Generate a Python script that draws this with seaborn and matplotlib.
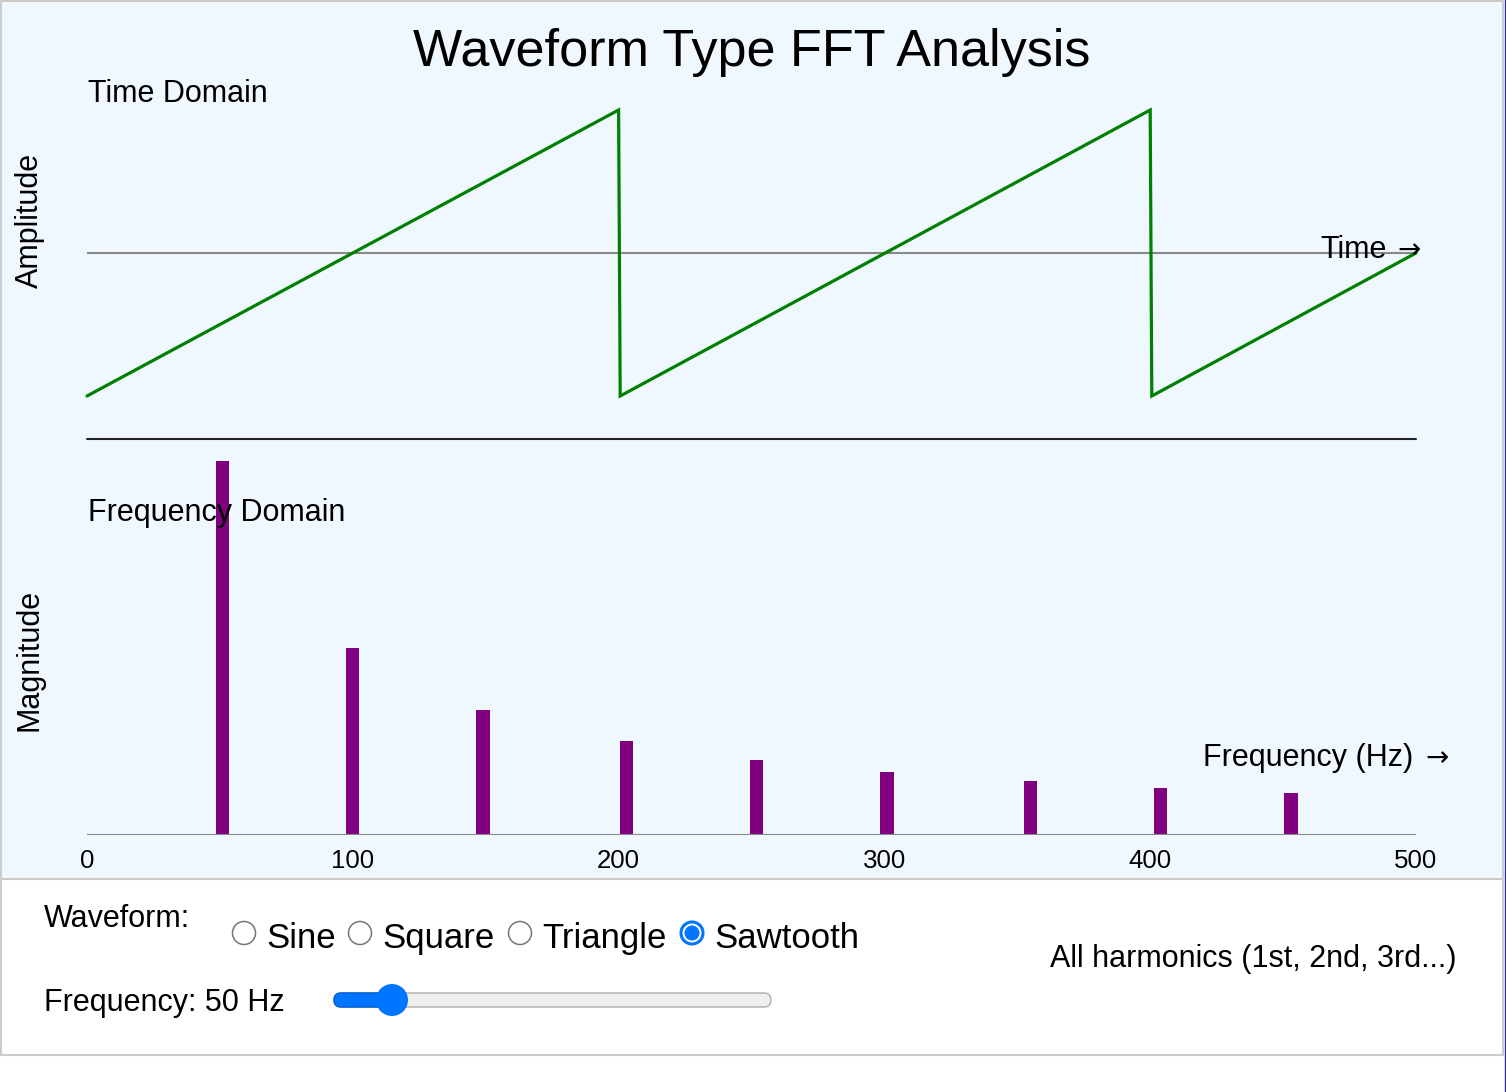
import seaborn as sns
import matplotlib.pyplot as plt
from matplotlib.patches import Rectangle, Circle, FancyBboxPatch

W, H = 1506, 1092

# time domain: one sawtooth at 50 Hz, 50 ms shown
time_ms = [0, 20, 20.06, 40, 40.06, 50]
amplitude = [-1, 1, -1, 1, -1, 0]

# frequency domain: harmonic peaks
harmonic_hz = [51, 100, 149, 203, 252, 301, 355, 404, 453]
magnitude = [1.0, 0.5, 0.334, 0.251, 0.2, 0.168, 0.144, 0.126, 0.112]
freq_ticks = [0, 100, 200, 300, 400, 500]

waveforms = ['Sine', 'Square', 'Triangle', 'Sawtooth']
selected = 'Sawtooth'
freq_setting = 50

sns.set_theme(style='white')
plt.rcParams['font.family'] = ['Liberation Sans', 'DejaVu Sans']
plt.rcParams['text.color'] = 'black'

fig = plt.figure(figsize=(W / 100, H / 100), dpi=100)
fig.patch.set_facecolor('white')


def frac(left, top, right, bottom):
    return [left / W, 1 - bottom / H, (right - left) / W, (bottom - top) / H]


# panels behind everything
back = fig.add_axes([0, 0, 1, 1], zorder=0)
back.set_xlim(0, W)
back.set_ylim(H, 0)
back.axis('off')
back.add_patch(Rectangle((1, 1), 1502, 878, facecolor='#f0f8ff',
                         edgecolor='#cccccc', lw=1.5))
back.add_patch(Rectangle((1, 879), 1502, 176, facecolor='white',
                         edgecolor='#cccccc', lw=1.5))

# time domain
ax_t = fig.add_axes(frac(87, 110, 1416, 396), zorder=1)
ax_t.patch.set_alpha(0)
ax_t.axhline(0, color='#888888', lw=1.5)
sns.lineplot(x=time_ms, y=amplitude, ax=ax_t, color='green', lw=2.3,
             sort=False, clip_on=False, solid_joinstyle='miter')
ax_t.set_xlim(0, 50)
ax_t.set_ylim(-1, 1)
ax_t.axis('off')

# frequency domain
ax_f = fig.add_axes(frac(87, 461, 1416, 835), zorder=2)
ax_f.patch.set_alpha(0)
sns.barplot(x=harmonic_hz, y=magnitude, native_scale=True, width=5 / 49,
            color='purple', saturation=1, linewidth=0, errorbar=None, ax=ax_f)
ax_f.axhline(0, color='#888888', lw=1.5, zorder=3)
ax_f.set_xlim(0, 500)
ax_f.set_ylim(0, 1)
ax_f.set_xticks(freq_ticks)
ax_f.set_xticklabels([str(t) for t in freq_ticks])
ax_f.set_yticks([])
ax_f.tick_params(axis='x', length=0, pad=10, labelsize=18.6, labelcolor='black')
for s in ax_f.spines.values():
    s.set_visible(False)
ax_f.set_xlabel('')
ax_f.set_ylabel('')

# texts and controls on top
front = fig.add_axes([0, 0, 1, 1], zorder=3)
front.patch.set_alpha(0)
front.set_xlim(0, W)
front.set_ylim(H, 0)
front.axis('off')

front.text(751.5, 66, 'Waveform Type FFT Analysis', fontsize=37.5,
           ha='center', va='baseline')
front.text(88, 102, 'Time Domain', fontsize=22, va='baseline')
front.text(88, 521, 'Frequency Domain', fontsize=22, va='baseline')
front.text(38, 220, 'Amplitude', fontsize=22, rotation=90,
           rotation_mode='anchor', ha='center', va='baseline')
front.text(38, 660, 'Magnitude', fontsize=22, rotation=90,
           rotation_mode='anchor', ha='center', va='baseline')
front.text(1320, 258, 'Time', fontsize=22, va='baseline')
front.text(1397, 258, '→', fontsize=20, va='baseline', family='DejaVu Sans')
front.text(1203, 766, 'Frequency (Hz)', fontsize=22, va='baseline')
front.text(1425, 766, '→', fontsize=20, va='baseline', family='DejaVu Sans')
front.plot([87, 1416], [439, 439], color='#222222', lw=1.5)

front.text(44, 927, 'Waveform:', fontsize=22, va='baseline')
radio_x = [244, 360, 520, 692]
for name, cx in zip(waveforms, radio_x):
    if name == selected:
        front.add_patch(Circle((cx, 933), 11, facecolor='white',
                               edgecolor='#0075ff', lw=2.2))
        front.add_patch(Circle((cx, 933), 7.5, facecolor='#0075ff', lw=0))
    else:
        front.add_patch(Circle((cx, 933), 11.5, facecolor='white',
                               edgecolor='#767676', lw=1.1))
    front.text(cx + 22, 948, name, fontsize=25, va='baseline')

front.text(44, 1011, f'Frequency: {freq_setting} Hz', fontsize=22,
           va='baseline')
front.add_patch(FancyBboxPatch((334, 993), 437, 14,
                               boxstyle='round,pad=0,rounding_size=7',
                               facecolor='#efefef', edgecolor='#b2b2b2', lw=1.1))
front.add_patch(FancyBboxPatch((334, 993), 58, 14,
                               boxstyle='round,pad=0,rounding_size=7',
                               facecolor='#0075ff', edgecolor='#0066dd', lw=1.1))
front.add_patch(Circle((392, 1000), 16, facecolor='#0075ff', lw=0))

front.text(1050, 967, 'All harmonics (1st, 2nd, 3rd...)', fontsize=22,
           va='baseline')

front.plot([1505, 1505], [0, H], color='#2a2ab8', lw=1)

fig.savefig('out.png', dpi=100)
